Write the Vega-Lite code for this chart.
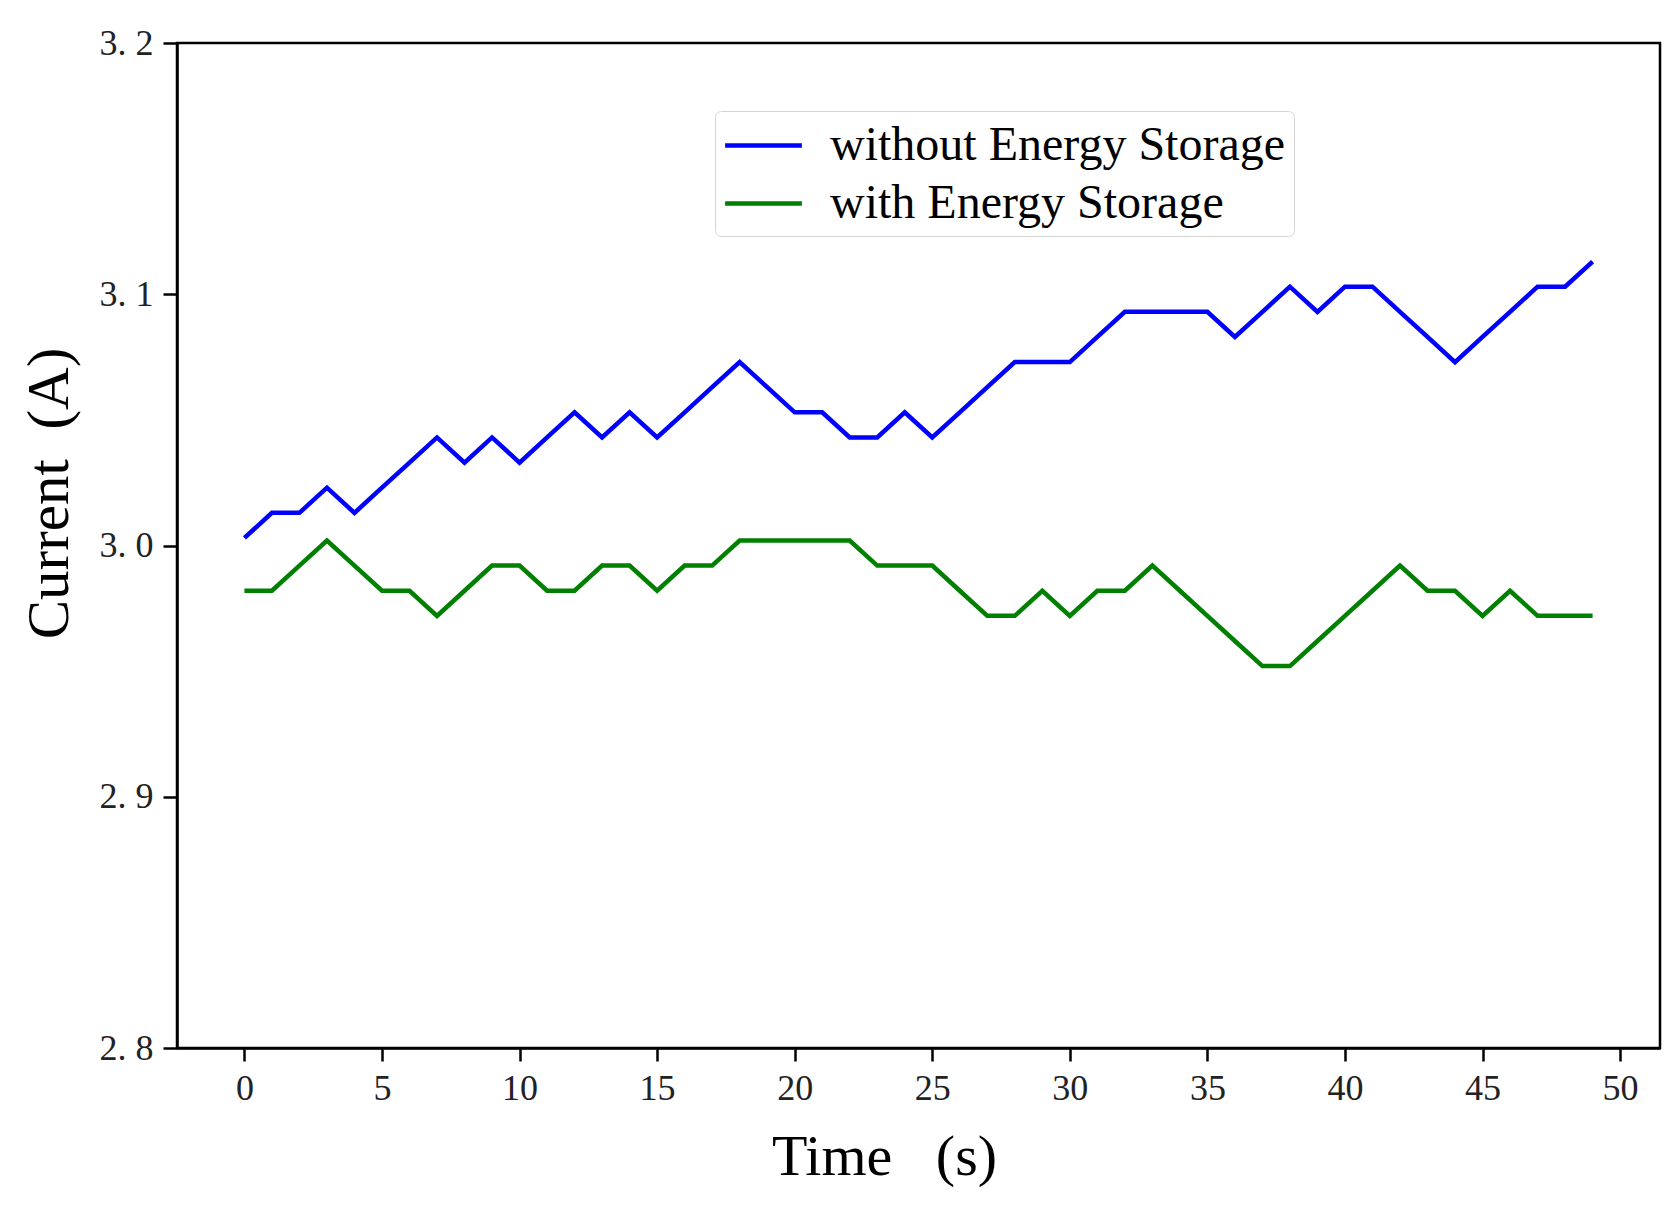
{
  "$schema": "https://vega.github.io/schema/vega-lite/v6.json",
  "width": 1483,
  "height": 1005,
  "autosize": {"type": "none"},
  "padding": {"left": 177, "top": 43, "right": 18, "bottom": 165},
  "background": "white",
  "config": {
    "view": {"stroke": "black", "strokeWidth": 2.5},
    "font": "Liberation Serif"
  },
  "data": {
    "values": [
      {"t":0,"s":"without Energy Storage","c":3.003},{"t":1,"s":"without Energy Storage","c":3.013},{"t":2,"s":"without Energy Storage","c":3.013},{"t":3,"s":"without Energy Storage","c":3.023},{"t":4,"s":"without Energy Storage","c":3.013},
      {"t":5,"s":"without Energy Storage","c":3.023},{"t":6,"s":"without Energy Storage","c":3.033},{"t":7,"s":"without Energy Storage","c":3.043},{"t":8,"s":"without Energy Storage","c":3.033},{"t":9,"s":"without Energy Storage","c":3.043},
      {"t":10,"s":"without Energy Storage","c":3.033},{"t":11,"s":"without Energy Storage","c":3.043},{"t":12,"s":"without Energy Storage","c":3.053},{"t":13,"s":"without Energy Storage","c":3.043},{"t":14,"s":"without Energy Storage","c":3.053},
      {"t":15,"s":"without Energy Storage","c":3.043},{"t":16,"s":"without Energy Storage","c":3.053},{"t":17,"s":"without Energy Storage","c":3.063},{"t":18,"s":"without Energy Storage","c":3.073},{"t":19,"s":"without Energy Storage","c":3.063},
      {"t":20,"s":"without Energy Storage","c":3.053},{"t":21,"s":"without Energy Storage","c":3.053},{"t":22,"s":"without Energy Storage","c":3.043},{"t":23,"s":"without Energy Storage","c":3.043},{"t":24,"s":"without Energy Storage","c":3.053},
      {"t":25,"s":"without Energy Storage","c":3.043},{"t":26,"s":"without Energy Storage","c":3.053},{"t":27,"s":"without Energy Storage","c":3.063},{"t":28,"s":"without Energy Storage","c":3.073},{"t":29,"s":"without Energy Storage","c":3.073},
      {"t":30,"s":"without Energy Storage","c":3.073},{"t":31,"s":"without Energy Storage","c":3.083},{"t":32,"s":"without Energy Storage","c":3.093},{"t":33,"s":"without Energy Storage","c":3.093},{"t":34,"s":"without Energy Storage","c":3.093},
      {"t":35,"s":"without Energy Storage","c":3.093},{"t":36,"s":"without Energy Storage","c":3.083},{"t":37,"s":"without Energy Storage","c":3.093},{"t":38,"s":"without Energy Storage","c":3.103},{"t":39,"s":"without Energy Storage","c":3.093},
      {"t":40,"s":"without Energy Storage","c":3.103},{"t":41,"s":"without Energy Storage","c":3.103},{"t":42,"s":"without Energy Storage","c":3.093},{"t":43,"s":"without Energy Storage","c":3.083},{"t":44,"s":"without Energy Storage","c":3.073},
      {"t":45,"s":"without Energy Storage","c":3.083},{"t":46,"s":"without Energy Storage","c":3.093},{"t":47,"s":"without Energy Storage","c":3.103},{"t":48,"s":"without Energy Storage","c":3.103},{"t":49,"s":"without Energy Storage","c":3.113},
      {"t":0,"s":"with Energy Storage","c":2.982},{"t":1,"s":"with Energy Storage","c":2.982},{"t":2,"s":"with Energy Storage","c":2.992},{"t":3,"s":"with Energy Storage","c":3.002},{"t":4,"s":"with Energy Storage","c":2.992},
      {"t":5,"s":"with Energy Storage","c":2.982},{"t":6,"s":"with Energy Storage","c":2.982},{"t":7,"s":"with Energy Storage","c":2.972},{"t":8,"s":"with Energy Storage","c":2.982},{"t":9,"s":"with Energy Storage","c":2.992},
      {"t":10,"s":"with Energy Storage","c":2.992},{"t":11,"s":"with Energy Storage","c":2.982},{"t":12,"s":"with Energy Storage","c":2.982},{"t":13,"s":"with Energy Storage","c":2.992},{"t":14,"s":"with Energy Storage","c":2.992},
      {"t":15,"s":"with Energy Storage","c":2.982},{"t":16,"s":"with Energy Storage","c":2.992},{"t":17,"s":"with Energy Storage","c":2.992},{"t":18,"s":"with Energy Storage","c":3.002},{"t":19,"s":"with Energy Storage","c":3.002},
      {"t":20,"s":"with Energy Storage","c":3.002},{"t":21,"s":"with Energy Storage","c":3.002},{"t":22,"s":"with Energy Storage","c":3.002},{"t":23,"s":"with Energy Storage","c":2.992},{"t":24,"s":"with Energy Storage","c":2.992},
      {"t":25,"s":"with Energy Storage","c":2.992},{"t":26,"s":"with Energy Storage","c":2.982},{"t":27,"s":"with Energy Storage","c":2.972},{"t":28,"s":"with Energy Storage","c":2.972},{"t":29,"s":"with Energy Storage","c":2.982},
      {"t":30,"s":"with Energy Storage","c":2.972},{"t":31,"s":"with Energy Storage","c":2.982},{"t":32,"s":"with Energy Storage","c":2.982},{"t":33,"s":"with Energy Storage","c":2.992},{"t":34,"s":"with Energy Storage","c":2.982},
      {"t":35,"s":"with Energy Storage","c":2.972},{"t":36,"s":"with Energy Storage","c":2.962},{"t":37,"s":"with Energy Storage","c":2.952},{"t":38,"s":"with Energy Storage","c":2.952},{"t":39,"s":"with Energy Storage","c":2.962},
      {"t":40,"s":"with Energy Storage","c":2.972},{"t":41,"s":"with Energy Storage","c":2.982},{"t":42,"s":"with Energy Storage","c":2.992},{"t":43,"s":"with Energy Storage","c":2.982},{"t":44,"s":"with Energy Storage","c":2.982},
      {"t":45,"s":"with Energy Storage","c":2.972},{"t":46,"s":"with Energy Storage","c":2.982},{"t":47,"s":"with Energy Storage","c":2.972},{"t":48,"s":"with Energy Storage","c":2.972},{"t":49,"s":"with Energy Storage","c":2.972}
    ]
  },
  "mark": {"type": "line", "strokeWidth": 4.5, "strokeJoin": "miter", "strokeCap": "butt"},
  "encoding": {
    "x": {
      "field": "t", "type": "quantitative",
      "scale": {"domain": [-2.45, 51.45], "nice": false, "zero": false},
      "axis": {
        "values": [0,5,10,15,20,25,30,35,40,45,50],
        "title": "Time\u00a0\u00a0\u00a0(s)",
        "titleFont": "Liberation Serif", "titleFontSize": 58, "titleFontWeight": "normal", "titleColor": "black",
        "titlePadding": 22, "titleX": 707,
        "labelFont": "Liberation Serif", "labelFontSize": 36, "labelColor": "#222", "labelPadding": 10,
        "tickSize": 13, "tickWidth": 2.5, "tickColor": "black",
        "domainColor": "black", "domainWidth": 2.5, "grid": false
      }
    },
    "y": {
      "field": "c", "type": "quantitative",
      "scale": {"domain": [2.8, 3.2], "nice": false, "zero": false},
      "axis": {
        "values": [2.8, 2.9, 3.0, 3.1, 3.2],
        "labelExpr": "replace(format(datum.value, '.1f'), '.', '. ')",
        "title": "Current\u00a0\u00a0(A)",
        "titleFont": "Liberation Serif", "titleFontSize": 59, "titleFontWeight": "normal", "titleColor": "black",
        "titlePadding": 20, "titleY": 450,
        "labelFont": "Liberation Serif", "labelFontSize": 36, "labelColor": "#222", "labelPadding": 10,
        "tickSize": 14, "tickWidth": 2.5, "tickColor": "black",
        "domainColor": "black", "domainWidth": 2.5, "grid": false
      }
    },
    "color": {
      "field": "s", "type": "nominal",
      "scale": {"domain": ["without Energy Storage", "with Energy Storage"], "range": ["#0000ff", "#008000"]},
      "legend": {
        "title": null,
        "orient": "none", "legendX": 538, "legendY": 68,
        "labelFont": "Liberation Serif", "labelFontSize": 48, "labelColor": "black", "labelLimit": 800,
        "symbolType": "M-1.6,0H1.6", "symbolSize": 2304, "symbolStrokeWidth": 4.5, "symbolOffset": 14,
        "labelOffset": 40, "rowPadding": 7, "padding": 8,
        "strokeColor": "#d4d4d4", "cornerRadius": 6, "fillColor": "white"
      }
    }
  }
}
